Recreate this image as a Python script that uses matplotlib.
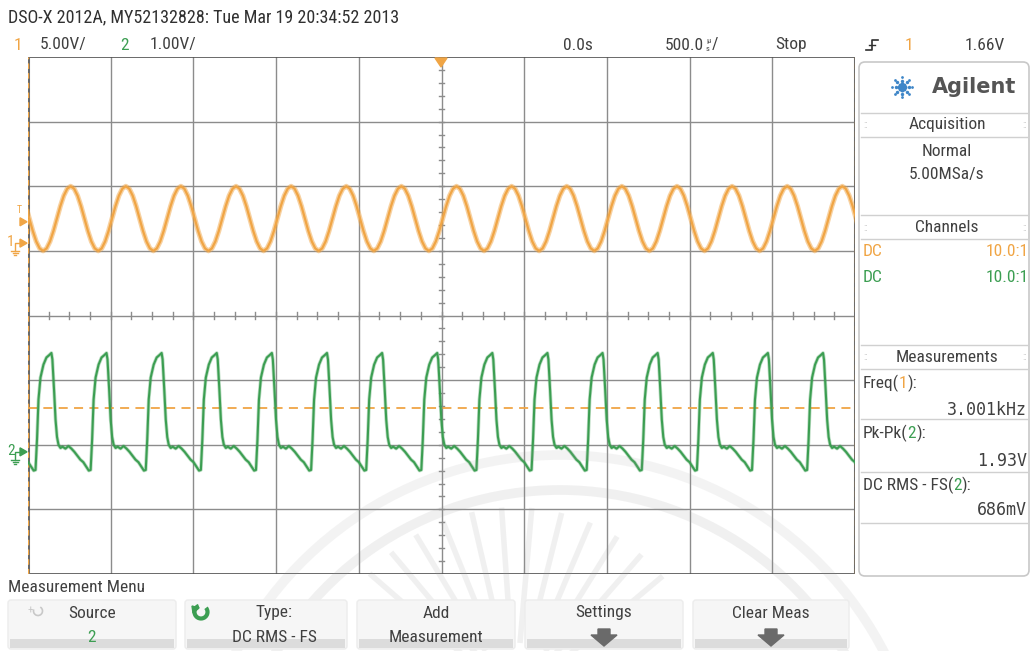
import math
import matplotlib
matplotlib.use("Agg")
import matplotlib.pyplot as plt
from matplotlib import font_manager
from matplotlib.patches import FancyBboxPatch, Polygon, Rectangle, Arc

# ---- scope settings ----
time_div_us = 500.0
ch1_volts_div = 5.0
ch2_volts_div = 1.0
ch1_ground_div = 1.12
ch2_ground_div = -2.11
trig_level_div = 1.45
marker_level_div = -1.43
freq_khz = 3.001
ch1_trough_us = -76.0     # ch1 minimum just before the trigger point
ch2_rise_us = -122.0      # ch2 rising edge just before the trigger point

# one period of channel 1 (16 samples from the trough), volts
ch1_cycle_v = [-0.60, -0.41, 0.13, 0.94, 1.90, 2.86, 3.67, 4.21,
               4.40, 4.21, 3.67, 2.86, 1.90, 0.94, 0.13, -0.41]
# one period of channel 2: time after rising edge (us), volts
ch2_cycle_us = [0, 9, 18, 30, 48, 66, 84, 96, 102, 112, 121, 130,
                139, 151, 163, 181, 199, 217, 235, 253, 271, 289, 307, 322]
ch2_cycle_v = [-0.28, 0.19, 0.81, 1.15, 1.35, 1.46, 1.50, 1.53, 1.43, 0.96, 0.50, 0.23,
               0.11, 0.06, 0.08, 0.05, 0.09, 0.05, 0.00, -0.06, -0.12, -0.16, -0.23, -0.29]

meas_names = ["Freq(", "Pk-Pk(", "DC RMS - FS("]
meas_src = ["1", "2", "2"]
meas_vals = ["3.001kHz", "1.93V", "686mV"]
soft_top = ["Source", "Type:", "Add", "Settings", "Clear Meas"]
soft_bot = ["2", "DC RMS - FS", "Measurement", "", ""]

C1 = "#f0a545"
C2 = "#3c9e52"
TXT = "#404040"
GRID = "#8c8c8c"


def pick_font(names):
    for n in names:
        try:
            font_manager.findfont(n, fallback_to_default=False)
            return n
        except Exception:
            pass
    return "DejaVu Sans"


NARROW = pick_font(["Liberation Sans Narrow", "Roboto Condensed", "Roboto", "DejaVu Sans"])
plt.rcParams["font.family"] = [NARROW, "DejaVu Sans"]

fig = plt.figure(figsize=(10.32, 6.51), dpi=100)
fig.patch.set_facecolor("white")

# pixel box of the graticule
gx0, gx1, gy0, gy1 = 28, 855, 57, 574
W, H = 1032, 651
ax = fig.add_axes([gx0 / W, 1 - gy1 / H, (gx1 - gx0) / W, (gy1 - gy0) / H])
ax.set_xlim(-5 * time_div_us, 5 * time_div_us)
ax.set_ylim(-4, 4)
ax.set_axis_off()

# graticule
for k in range(-4, 5):
    ax.axvline(k * time_div_us, color=GRID, lw=1.0, zorder=1)
for k in range(-3, 4):
    ax.axhline(k, color=GRID, lw=1.0, zorder=1)
for k in range(-20, 21):
    t = k * time_div_us / 4
    ax.plot([t, t], [-0.05, 0.05], color=GRID, lw=1.0, zorder=1)
for k in range(-20, 21):
    v = k * 0.2
    ax.plot([-18, 18], [v, v], color=GRID, lw=1.0, zorder=1)
ax.axhline(4, color="#505050", lw=1.2, zorder=1)
ax.axhline(-4, color="#505050", lw=1.2, zorder=1)
ax.axvline(-2500, color="#6a6a6a", lw=2.2, zorder=1)
ax.axvline(2500, color="#6a6a6a", lw=2.2, zorder=1)
ax.axvline(-2497, color=C1, lw=1.0, ls=(0, (4, 3)), zorder=2)
ax.axvline(2497, color="#b08040", lw=1.0, ls=(0, (4, 3)), zorder=2)

# traces, one period repeated over the screen
period = 1000.0 / freq_khz
n1 = len(ch1_cycle_v)
t1, y1 = [], []
t2, y2 = [], []
for n in range(-9, 10):
    for i, v in enumerate(ch1_cycle_v):
        t1.append(ch1_trough_us + (n + i / n1) * period)
        y1.append(ch1_ground_div + v / ch1_volts_div)
    for o, v in zip(ch2_cycle_us, ch2_cycle_v):
        t2.append(ch2_rise_us + n * period + o)
        y2.append(ch2_ground_div + v / ch2_volts_div)

ax.axhline(marker_level_div, color=C1, lw=1.3, ls=(0, (5, 3.5)), zorder=2)
ax.plot(t1, y1, color=C1, lw=3.6, alpha=0.5, zorder=3, solid_joinstyle="round")
ax.plot(t1, y1, color=C1, lw=1.6, zorder=3, solid_joinstyle="round")
ax.plot(t2, y2, color=C2, lw=2.6, alpha=0.35, zorder=3, solid_joinstyle="round")
ax.plot(t2, y2, color=C2, lw=1.5, zorder=3, solid_joinstyle="round")

# overlay in screen pixels for the labels and panels
ov = fig.add_axes([0, 0, 1, 1], zorder=5)
ov.set_xlim(0, W)
ov.set_ylim(H, 0)
ov.set_axis_off()
ov.patch.set_alpha(0)

# faint watermark
for r, a in [(330, 0.14), (365, 0.11)]:
    ov.add_patch(Arc((560, 820), 2 * r, 2 * r, theta1=200, theta2=340,
                     color="#9a9a9a", lw=7, alpha=a, zorder=0))
for ang in range(40, 141, 9):
    a = math.radians(ang)
    ov.plot([515 + 60 * math.cos(a), 515 + 190 * math.cos(a)],
            [700 - 60 * math.sin(a), 700 - 190 * math.sin(a)],
            color="#9a9a9a", lw=4, alpha=0.14, zorder=0)

ov.text(8, 17, "DSO-X 2012A, MY52132828: Tue Mar 19 20:34:52 2013", fontsize=13,
        color="#303030", va="center", ha="left")
ov.text(14, 45, "1", fontsize=12.5, color=C1, va="center")
ov.text(40, 45, "5.00V/", fontsize=12.5, color=TXT, va="center")
ov.text(120, 45, "2", fontsize=12.5, color=C2, va="center")
ov.text(150, 45, "1.00V/", fontsize=12.5, color=TXT, va="center")
ov.text(563, 45, "0.0s", fontsize=12.5, color=TXT, va="center")
ov.text(704, 45, "500.0", fontsize=12.5, color=TXT, va="center", ha="right")
ov.text(706, 41, "µ", fontsize=6, color=TXT, va="center")
ov.text(706, 49, "s", fontsize=6, color=TXT, va="center")
ov.text(712, 45, "/", fontsize=12.5, color=TXT, va="center")
ov.text(775, 45, "Stop", fontsize=12.5, color=TXT, va="center")
ov.plot([866, 872, 872, 878], [50, 50, 40, 40], color="#303030", lw=1.2)
ov.plot([869, 875], [45, 45], color="#303030", lw=1.0)
ov.text(905, 45, "1", fontsize=12.5, color=C1, va="center")
ov.text(1005, 45, "1.66V", fontsize=12.5, color=TXT, va="center", ha="right")

# trigger position marker
ov.add_patch(Polygon([[435, 58], [447, 58], [441, 67]], closed=True, color=C1, zorder=6))

# channel markers on the left edge
ty = gy0 + (4 - trig_level_div) / 8 * (gy1 - gy0)
g1 = gy0 + (4 - ch1_ground_div) / 8 * (gy1 - gy0)
g2 = gy0 + (4 - ch2_ground_div) / 8 * (gy1 - gy0)
ov.text(19, ty - 12, "T", fontsize=7, color=C1, ha="center", va="center")
ov.add_patch(Polygon([[20, ty - 4], [20, ty + 4], [27, ty]], closed=True, color=C1))
for gy, lab, col in [(g1, "1", C1), (g2, "2", C2)]:
    ov.text(11, gy - 1, lab, fontsize=11, color=col, ha="center", va="center")
    ov.add_patch(Polygon([[20, gy - 4], [20, gy + 4], [27, gy]], closed=True, color=col))
    ov.plot([15, 15, 20], [gy + 8, gy, gy], color=col, lw=1.0)
    ov.plot([11, 19], [gy + 8, gy + 8], color=col, lw=1.0)
    ov.plot([12.5, 17.5], [gy + 10, gy + 10], color=col, lw=1.0)
    ov.plot([14, 16], [gy + 12, gy + 12], color=col, lw=1.0)

# right hand side panel
ov.add_patch(FancyBboxPatch((859, 62), 170, 514, boxstyle="round,pad=0,rounding_size=6",
                            fc="white", ec="#c8c8c8", lw=1.2))
for r in [3, 6.5, 10]:
    for k in range(8):
        a = math.radians(k * 45)
        ov.scatter(902 + r * math.cos(a), 87 + r * math.sin(a), s=10 - r * 0.6,
                   color="#3e86c8", zorder=7, lw=0)
ov.scatter(902, 87, s=6, color="#3e86c8", zorder=7, lw=0)
ov.text(974, 87, "Agilent", fontsize=15, fontweight="bold", color="#555555",
        ha="center", va="center", family="DejaVu Sans")

for y in [113, 137, 215, 239, 345, 369, 419, 472, 523]:
    ov.plot([861, 1027], [y, y], color="#d0d0d0", lw=1.0)
for y, lab in [(125, "Acquisition"), (228, "Channels"), (357, "Measurements")]:
    ov.text(947, y, lab, fontsize=12.5, color=TXT, ha="center", va="center")
    ov.text(866, y, "::", fontsize=7, color="#c0c0c0", ha="center", va="center")
    ov.text(1025, y, "::", fontsize=7, color="#c0c0c0", ha="center", va="center")
ov.text(947, 151, "Normal", fontsize=12.5, color=TXT, ha="center", va="center")
ov.text(947, 175, "5.00MSa/s", fontsize=12.5, color=TXT, ha="center", va="center")
for y, col in [(252, C1), (277, C2)]:
    ov.text(863, y, "DC", fontsize=12.5, color=col, va="center")
    ov.text(1029, y, "10.0:1", fontsize=12.5, color=col, va="center", ha="right")

for i, y in enumerate([383, 433, 485]):
    t = ov.text(863, y, meas_names[i], fontsize=12.5, color=TXT, va="center")
    t2_ = ov.annotate(meas_src[i], xy=(1, 0.5), xycoords=t, va="center", ha="left",
                      fontsize=12.5, color=C1 if meas_src[i] == "1" else C2)
    ov.annotate("):", xy=(1, 0.5), xycoords=t2_, va="center", ha="left",
                fontsize=12.5, color=TXT)
for y, val in zip([410, 461, 510], meas_vals):
    ov.text(1027, y, val, fontsize=12, color=TXT, va="center", ha="right",
            family="DejaVu Sans Mono")

# soft keys at the bottom
ov.text(8, 587, "Measurement Menu", fontsize=12.5, color=TXT, va="center")
keys = [(8, 176), (185, 347), (357, 515), (525, 683), (693, 849)]
for i, (a, b) in enumerate(keys):
    ov.add_patch(FancyBboxPatch((a, 600), b - a, 49, boxstyle="round,pad=0,rounding_size=3",
                                fc="#f6f6f6", ec="#ececec", lw=1.0, zorder=1))
    ov.add_patch(Rectangle((a + 2, 639), b - a - 4, 9, fc="#dcdcdc", ec="none", zorder=1))
    cx = (a + b) / 2 + (8 if i == 1 else 0)
    ov.text(cx, 613, soft_top[i], fontsize=12.5, color=TXT, ha="center", va="center", zorder=3)
    if soft_bot[i]:
        ov.text(cx, 637, soft_bot[i], fontsize=12.5, color=C2 if soft_bot[i] == "2" else TXT,
                ha="center", va="center", zorder=3)
    else:
        ov.add_patch(Polygon([[cx - 6, 629], [cx + 6, 629], [cx + 6, 635], [cx + 13, 635],
                              [cx, 646], [cx - 13, 635], [cx - 6, 635]],
                             closed=True, color="#6a6a6a", zorder=3))
ov.text(30, 611, "+", fontsize=8, color="#c8c8c8", ha="center", va="center")
ov.add_patch(Arc((38, 611), 9, 9, theta1=-60, theta2=200, color="#c8c8c8", lw=1.2))
ov.add_patch(Arc((201, 612), 13, 13, theta1=-40, theta2=250, color=C2, lw=3))
ov.add_patch(Polygon([[192, 606], [199, 608], [193, 613]], closed=True, color=C2))

fig.savefig("out.png", dpi=100, facecolor="white")
